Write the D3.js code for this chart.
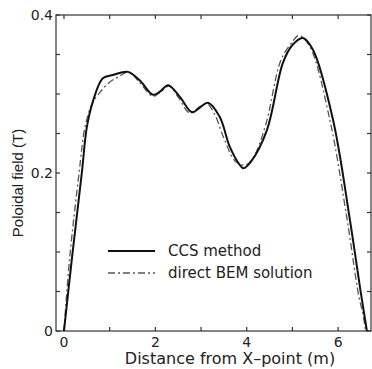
<!DOCTYPE html>
<html>
<head>
<meta charset="utf-8">
<script src="https://cdn.jsdelivr.net/npm/d3@7"></script>
<style>
  body { margin: 0; background: #fff; }
  text { font-family: "DejaVu Sans", sans-serif; fill: #222; }
</style>
</head>
<body>
<svg id="chart" width="372" height="369"></svg>
<script>
// CCS method (solid)
const ccsX = [0, 0.17, 0.39, 0.5, 0.64, 0.85, 1.07, 1.4, 1.66, 1.95, 2.1, 2.28, 2.54, 2.8, 2.98, 3.15, 3.41, 3.63, 3.85, 3.93, 4.1, 4.44, 4.79, 5.0, 5.23, 5.45, 5.89, 6.26, 6.48, 6.63];
const ccsY = [0, 0.09, 0.2, 0.258, 0.292, 0.32, 0.324, 0.328, 0.317, 0.299, 0.303, 0.311, 0.296, 0.277, 0.283, 0.289, 0.271, 0.233, 0.21, 0.206, 0.215, 0.254, 0.339, 0.362, 0.371, 0.356, 0.267, 0.14, 0.055, 0];
// direct BEM solution (dash-dot)
const bemX = [0, 0.12, 0.33, 0.46, 0.62, 0.8, 1.0, 1.2, 1.42, 1.65, 1.95, 2.1, 2.3, 2.5, 2.75, 2.95, 3.12, 3.3, 3.5, 3.75, 3.98, 4.15, 4.42, 4.75, 5.0, 5.14, 5.38, 5.82, 6.2, 6.45, 6.55, 6.6];
const bemY = [0, 0.09, 0.2, 0.258, 0.288, 0.303, 0.315, 0.322, 0.328, 0.315, 0.297, 0.302, 0.31, 0.296, 0.276, 0.283, 0.288, 0.274, 0.244, 0.215, 0.21, 0.22, 0.262, 0.343, 0.366, 0.374, 0.36, 0.267, 0.14, 0.045, 0.02, 0];

const xTicks = [0, 1, 2, 3, 4, 5, 6];
const xLabels = [0, 2, 4, 6];
const yTicks = [0, 0.05, 0.1, 0.15, 0.2, 0.25, 0.3, 0.35, 0.4];
const yLabels = [0, 0.2, 0.4];
const legendNames = ["CCS method", "direct BEM solution"];

const svg = d3.select("#chart");
const mLeft = 56, mRight = 371, mTop = 15, mBottom = 331;

const x = d3.scaleLinear().domain([-0.175, 6.72]).range([mLeft, mRight]);
const y = d3.scaleLinear().domain([0, 0.4]).range([mBottom, mTop]);

// frame
svg.append("rect")
  .attr("x", mLeft).attr("y", mTop)
  .attr("width", mRight - mLeft).attr("height", mBottom - mTop)
  .attr("fill", "none").attr("stroke", "#333").attr("stroke-width", 1.2);

// ticks (inward)
const tk = svg.append("g").attr("stroke", "#333").attr("stroke-width", 1.2);
xTicks.forEach(t => {
  tk.append("line").attr("x1", x(t)).attr("x2", x(t)).attr("y1", mBottom).attr("y2", mBottom - 4);
  tk.append("line").attr("x1", x(t)).attr("x2", x(t)).attr("y1", mTop).attr("y2", mTop + 4);
});
yTicks.forEach(t => {
  tk.append("line").attr("x1", mLeft).attr("x2", mLeft + 4).attr("y1", y(t)).attr("y2", y(t));
  tk.append("line").attr("x1", mRight).attr("x2", mRight - 4).attr("y1", y(t)).attr("y2", y(t));
});

// tick labels
svg.selectAll(".xl").data(xLabels).enter().append("text")
  .attr("x", d => x(d)).attr("y", 347)
  .attr("text-anchor", "middle").attr("font-size", 14)
  .text(d => d);

svg.selectAll(".yl").data(yLabels).enter().append("text")
  .attr("x", 53).attr("y", d => y(d) + 5)
  .attr("text-anchor", "end").attr("font-size", 14)
  .text(d => d);

// axis titles
svg.append("text")
  .attr("x", 230).attr("y", 364)
  .attr("text-anchor", "middle").attr("font-size", 16)
  .text("Distance from X\u2013point (m)");

svg.append("text")
  .attr("transform", "translate(23,183) rotate(-90)")
  .attr("text-anchor", "middle").attr("font-size", 15)
  .style("font-family", "'Liberation Sans', Arial, sans-serif")
  .text("Poloidal field (T)");

// curves
const line = d3.line()
  .x(d => x(d[0])).y(d => y(d[1]))
  .curve(d3.curveCatmullRom.alpha(0.5));

svg.append("path")
  .datum(bemX.map((v, i) => [v, bemY[i]]))
  .attr("d", line)
  .attr("fill", "none").attr("stroke", "#555").attr("stroke-width", 1.3)
  .attr("stroke-dasharray", "7,3,2,3");

svg.append("path")
  .datum(ccsX.map((v, i) => [v, ccsY[i]]))
  .attr("d", line)
  .attr("fill", "none").attr("stroke", "#111").attr("stroke-width", 2);

// legend
const lg = svg.append("g");
legendNames.forEach((name, i) => {
  const ly = 251 + i * 22;
  lg.append("line")
    .attr("x1", 108).attr("x2", 155).attr("y1", ly).attr("y2", ly)
    .attr("stroke", i === 0 ? "#111" : "#555")
    .attr("stroke-width", i === 0 ? 2 : 1.3)
    .attr("stroke-dasharray", i === 0 ? null : "7,3,2,3");
  lg.append("text")
    .attr("x", 168).attr("y", ly + 5)
    .attr("font-size", 15)
    .text(name);
});
</script>
</body>
</html>
